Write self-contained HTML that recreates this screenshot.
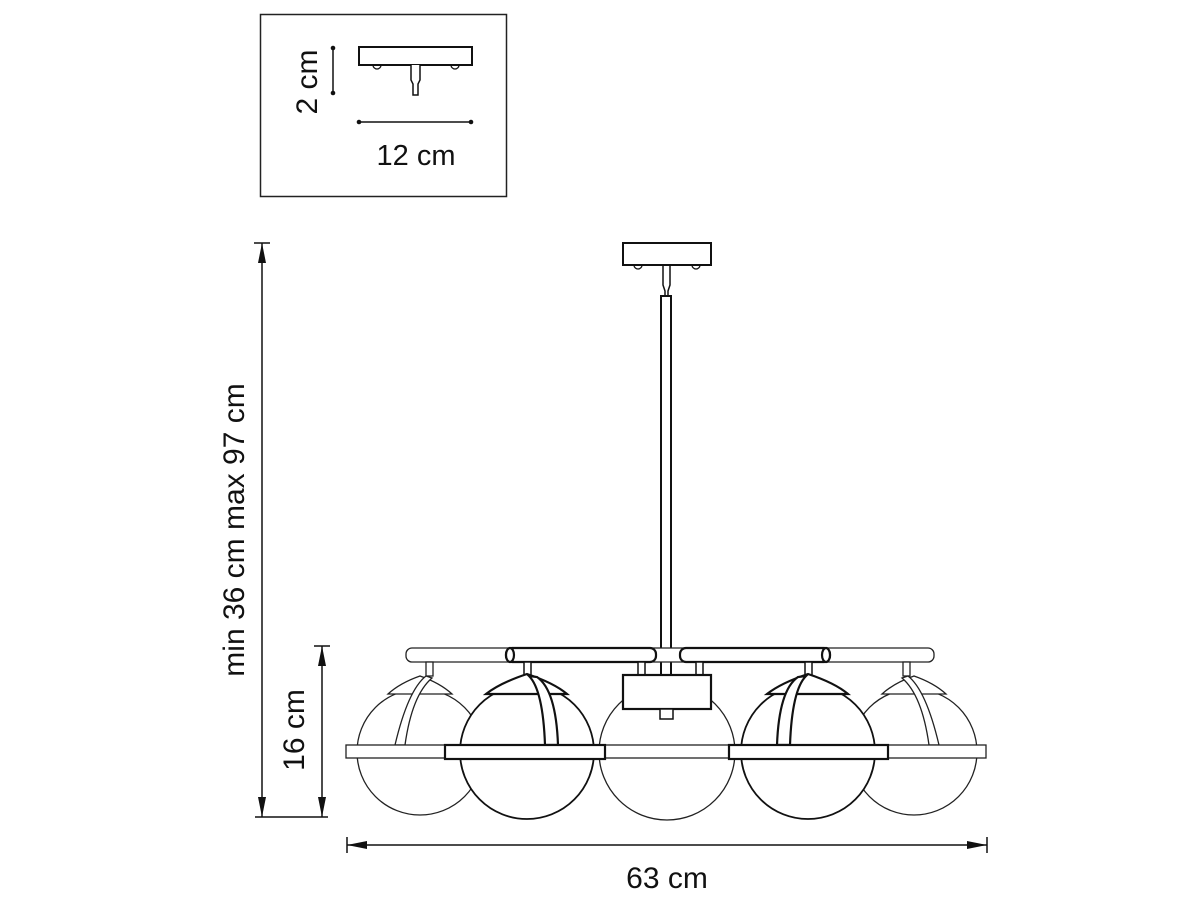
<!DOCTYPE html>
<html><head><meta charset="utf-8"><style>
html,body{margin:0;padding:0;background:#fff;}
svg{display:block;}
text{font-family:"Liberation Sans",sans-serif;fill:#111;}
</style></head><body>
<svg width="1200" height="900" viewBox="0 0 1200 900" xmlns="http://www.w3.org/2000/svg">
<defs>
<marker id="ar2" viewBox="0 0 20 10" refX="20" refY="5" markerWidth="20" markerHeight="10" markerUnits="userSpaceOnUse" orient="auto-start-reverse"><path d="M0,1 L20,5 L0,9 z" fill="#111"/></marker>
</defs>
<!-- inset -->
<rect x="260.5" y="14.5" width="246" height="182" fill="none" stroke="#222" stroke-width="1.5"/>
<rect x="359" y="47" width="113" height="18" fill="#fff" stroke="#111" stroke-width="2"/>
<path d="M373,65 a4,4 0 0 0 8,0 M451,65 a4,4 0 0 0 8,0" fill="none" stroke="#111" stroke-width="1.3"/>
<path d="M411,65 L411,80 L413,84 L413,95 L418,95 L418,84 L420,80 L420,65" fill="#fff" stroke="#111" stroke-width="1.5"/>
<line x1="333" y1="48" x2="333" y2="93" stroke="#111" stroke-width="1.5"/>
<circle cx="333" cy="48" r="2.3" fill="#111"/><circle cx="333" cy="93" r="2.3" fill="#111"/>
<line x1="359" y1="122" x2="471" y2="122" stroke="#111" stroke-width="1.5"/>
<circle cx="359" cy="122" r="2.3" fill="#111"/><circle cx="471" cy="122" r="2.3" fill="#111"/>
<text x="416" y="165" font-size="29" text-anchor="middle">12 cm</text>
<text transform="translate(317,82) rotate(-90)" font-size="30" text-anchor="middle">2 cm</text>

<!-- left dims -->
<line x1="254" y1="243" x2="270" y2="243" stroke="#111" stroke-width="1.5"/>
<line x1="262" y1="243" x2="262" y2="817" stroke="#111" stroke-width="1.5" marker-start="url(#ar2)" marker-end="url(#ar2)"/>
<line x1="314" y1="646" x2="330" y2="646" stroke="#111" stroke-width="1.5"/>
<line x1="322" y1="646" x2="322" y2="817" stroke="#111" stroke-width="1.5" marker-start="url(#ar2)" marker-end="url(#ar2)"/>
<line x1="255" y1="817" x2="328" y2="817" stroke="#111" stroke-width="1.5"/>
<text transform="translate(244,530) rotate(-90)" font-size="30" text-anchor="middle">min 36 cm max 97 cm</text>
<text transform="translate(304,730) rotate(-90)" font-size="30" text-anchor="middle">16 cm</text>

<!-- bottom dim -->
<line x1="347" y1="837" x2="347" y2="853" stroke="#111" stroke-width="1.5"/>
<line x1="987" y1="837" x2="987" y2="853" stroke="#111" stroke-width="1.5"/>
<line x1="347" y1="845" x2="987" y2="845" stroke="#111" stroke-width="1.5" marker-start="url(#ar2)" marker-end="url(#ar2)"/>
<text x="667" y="888" font-size="30" text-anchor="middle">63 cm</text>

<!-- ceiling canopy -->
<rect x="623" y="243" width="88" height="22" fill="#fff" stroke="#111" stroke-width="2"/>
<path d="M634,265 a4,4 0 0 0 8,0 M692,265 a4,4 0 0 0 8,0" fill="none" stroke="#111" stroke-width="1.3"/>
<path d="M663,265 L663,285 L665,291 L665,296 M670,265 L670,285 L668,291 L668,296" fill="none" stroke="#111" stroke-width="1.5"/>
<rect x="661" y="296" width="10" height="380" fill="#fff" stroke="#111" stroke-width="2"/>

<g fill="#fff" stroke="#222" stroke-width="1.3">
<rect x="406" y="648" width="528" height="14" rx="6"/>
<rect x="426" y="662" width="7" height="14"/>
<rect x="903" y="662" width="7" height="14"/>
<circle cx="420" cy="752" r="63"/>
<circle cx="914" cy="752" r="63"/>
<path d="M388,694 Q400,683 420,676 Q440,683 452,694 Z"/>
<path d="M882,694 Q894,683 914,676 Q934,683 946,694 Z"/>
<path d="M426,676 Q408,690 395,745 L405,745 Q412,695 432,678 Z"/>
<path d="M908,676 Q926,690 939,745 L929,745 Q922,695 902,678 Z"/>
<circle cx="667" cy="752" r="68"/>
<rect x="346" y="745" width="640" height="13"/>
</g>
<g fill="#fff" stroke="#111" stroke-width="2.2">
<rect x="506" y="648" width="150" height="14" rx="6"/>
<rect x="680" y="648" width="150" height="14" rx="6"/>
<ellipse cx="510" cy="655" rx="4" ry="7"/>
<ellipse cx="826" cy="655" rx="4" ry="7"/>
<rect x="638" y="662" width="7" height="13" stroke-width="1.5"/>
<rect x="696" y="662" width="7" height="13" stroke-width="1.5"/>
<rect x="524" y="662" width="7" height="13" stroke-width="1.5"/>
<rect x="805" y="662" width="7" height="13" stroke-width="1.5"/>
<rect x="623" y="675" width="88" height="34"/>
<rect x="660" y="709" width="13" height="10" stroke-width="1.5"/>
<circle cx="527" cy="752" r="67" stroke-width="1.8"/>
<circle cx="808" cy="752" r="67" stroke-width="1.8"/>
<path d="M486,694 Q500,683 527,674 Q554,683 567,694 Z"/>
<path d="M767,694 Q781,683 808,674 Q835,683 848,694 Z"/>
<path d="M529,676 Q543,690 545,745 L558,745 Q556,690 537,677 Z"/>
<path d="M806,676 Q792,690 790,745 L777,745 Q779,690 798,677 Z"/>
<rect x="445" y="745" width="160" height="14"/>
<rect x="729" y="745" width="159" height="14"/>
</g>
</svg>
</body></html>
